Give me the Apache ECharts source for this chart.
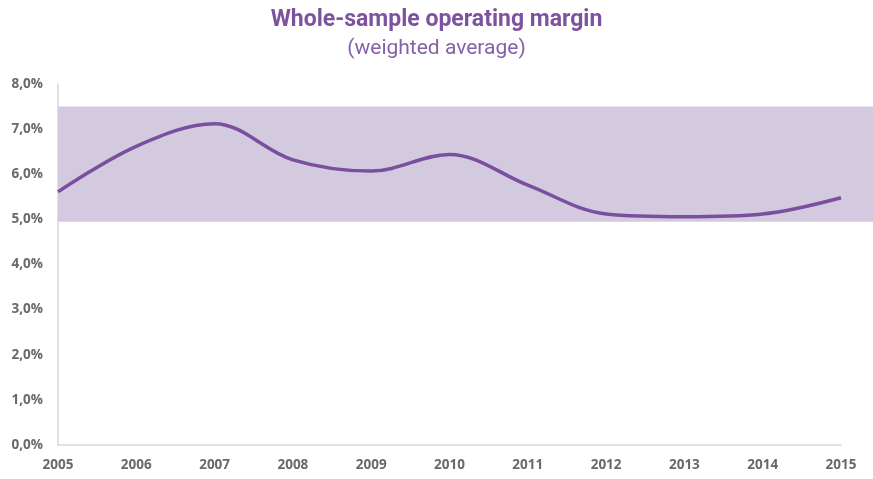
<!DOCTYPE html>
<html><head><meta charset="utf-8">
<script src="https://cdn.jsdelivr.net/npm/echarts@6/dist/echarts.min.js"></script>
<style>html,body{margin:0;padding:0;background:#fff}#c{width:873px;height:479px}</style>
</head><body><div id="c"></div>
<script>
const years = ['2005','2006','2007','2008','2009','2010','2011','2012','2013','2014','2015'];
const margin = [5.61, 6.62, 7.12, 6.32, 6.07, 6.44, 5.76, 5.12, 5.06, 5.12, 5.48];
const band = [4.95, 7.5];
const yTicks = [0, 1, 2, 3, 4, 5, 6, 7, 8];

const chart = echarts.init(document.getElementById('c'));
const labelColor = '#6b6868';
chart.setOption({
  animation: false,
  title: [{
    text: 'Whole-sample operating margin',
    left: 'center', top: 4,
    textStyle: {fontFamily: 'Roboto, sans-serif', fontSize: 23, fontWeight: 'bold', color: '#7d539f'}
  }, {
    text: '(weighted average)',
    left: 'center', top: 33,
    textStyle: {fontFamily: 'Roboto, sans-serif', fontSize: 21, fontWeight: 'normal', color: '#8660a8'}
  }],
  grid: [
    {left: 58, right: 32, top: 84, bottom: 34, containLabel: false},
    {left: 58, right: 0, top: 84, bottom: 34, containLabel: false}
  ],
  xAxis: [{
    type: 'category', data: years, boundaryGap: false, gridIndex: 0,
    axisLine: {lineStyle: {color: '#dcd6d2', width: 1.5}},
    axisTick: {show: false},
    axisLabel: {color: labelColor, fontFamily: 'Open Sans, sans-serif', fontWeight: 'bold', fontSize: 13.5, margin: 13}
  }, {
    type: 'value', gridIndex: 1, min: 0, max: 1, show: false
  }],
  yAxis: [{
    type: 'value', min: yTicks[0], max: yTicks[yTicks.length-1], interval: 1, gridIndex: 0,
    axisLine: {show: true, lineStyle: {color: '#dcd6d2', width: 1.5}},
    axisTick: {show: false},
    splitLine: {show: false},
    axisLabel: {color: labelColor, fontFamily: 'Open Sans, sans-serif', fontWeight: 'bold', fontSize: 13.5, margin: 15,
      formatter: v => v.toFixed(1).replace('.', ',') + '%'}
  }, {
    type: 'value', min: yTicks[0], max: yTicks[yTicks.length-1], gridIndex: 1, show: false
  }],
  series: [{
    type: 'line', xAxisIndex: 1, yAxisIndex: 1, data: [], z: 1,
    markArea: {silent: true, itemStyle: {color: '#d3cadf', opacity: 1},
      data: [[{yAxis: band[0]}, {yAxis: band[1]}]]}
  }, {
    type: 'line', data: margin, smooth: 0.35, symbol: 'none', z: 5,
    lineStyle: {color: '#7a4fa0', width: 3.5}
  }]
});
</script></body></html>
